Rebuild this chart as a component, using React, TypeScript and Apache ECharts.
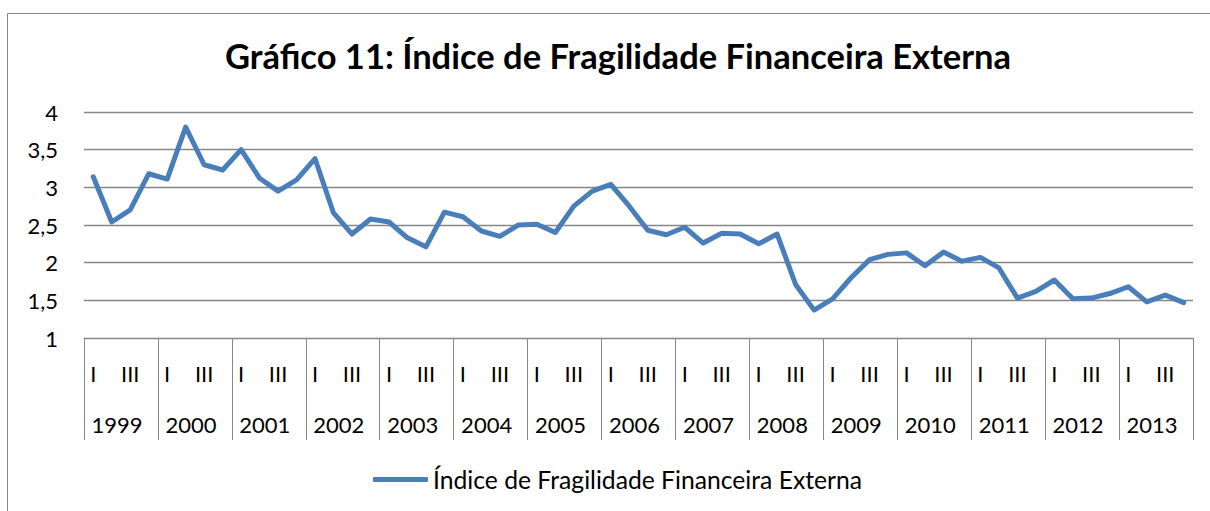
import React, { useEffect, useRef } from "react";
import * as echarts from "echarts";

const title = "Gráfico 11: Índice de Fragilidade Financeira Externa";
const seriesName = "Índice de Fragilidade Financeira Externa";
const years = ["1999","2000","2001","2002","2003","2004","2005","2006","2007","2008","2009","2010","2011","2012","2013"];
const quarterNames = ["I", "II", "III", "IV"];
const quarters: string[] = [];
years.forEach(() => quarterNames.forEach((q) => quarters.push(q)));

const values = [
  3.14, 2.54, 2.70, 3.18,
  3.11, 3.80, 3.30, 3.23,
  3.50, 3.12, 2.95, 3.10,
  3.38, 2.66, 2.38, 2.58,
  2.54, 2.33, 2.21, 2.67,
  2.61, 2.42, 2.35, 2.50,
  2.51, 2.40, 2.75, 2.95,
  3.04, 2.75, 2.43, 2.37,
  2.47, 2.26, 2.39, 2.38,
  2.25, 2.38, 1.71, 1.37,
  1.52, 1.80, 2.04, 2.11,
  2.13, 1.96, 2.14, 2.02,
  2.07, 1.93, 1.53, 1.62,
  1.77, 1.52, 1.53, 1.59,
  1.68, 1.48, 1.57, 1.47,
];

const FONT = "Lato";
const GRAY = "#868686";

export default function App() {
  const ref = useRef<HTMLDivElement>(null);
  useEffect(() => {
    if (!ref.current) return;
    const chart = echarts.init(ref.current, null, { renderer: "svg" });
    chart.setOption({
      animation: false,
      backgroundColor: "#ffffff",
      textStyle: { fontFamily: FONT, color: "#000" },
      title: {
        text: title,
        left: 220,
        top: 33,
        textStyle: { fontFamily: FONT, fontWeight: "bold", fontSize: 34.5, color: "#000" },
      },
      legend: {
        left: 368,
        top: 462,
        icon: "roundRect",
        itemWidth: 55,
        itemHeight: 5,
        itemGap: 5,
        textStyle: { fontFamily: FONT, fontSize: 24.7, color: "#000" },
        data: [seriesName],
      },
      graphic: [
        {
          type: "rect",
          shape: { x: 7.5, y: 13.5, width: 1400, height: 700 },
          style: { fill: "none", stroke: GRAY, lineWidth: 1 },
          silent: true,
        },
      ],
      grid: { left: 84, right: 17, top: 112, bottom: 173, containLabel: false },
      xAxis: [
        {
          type: "category",
          data: quarters,
          position: "bottom",
          boundaryGap: true,
          axisLine: { show: true, onZero: false, lineStyle: { color: GRAY, width: 1 } },
          axisTick: {
            show: true,
            interval: (i: number) => i % 4 === 0,
            length: 102,
            lineStyle: { color: GRAY, width: 1 },
          },
          axisLabel: { interval: 1, margin: 24, fontSize: 22, fontFamily: FONT, color: "#000" },
          splitLine: { show: false },
        },
        {
          type: "category",
          data: years,
          position: "bottom",
          boundaryGap: true,
          axisLine: { show: false, onZero: false },
          axisTick: { show: false },
          axisLabel: { interval: 0, margin: 75, fontSize: 22, fontFamily: FONT, color: "#000", padding: [0, 8, 0, 0] },
          splitLine: { show: false },
        },
      ],
      yAxis: {
        type: "value",
        min: 1,
        max: 4,
        interval: 0.5,
        axisLine: { show: false },
        axisTick: { show: false },
        axisLabel: {
          margin: 26,
          fontSize: 22,
          fontFamily: FONT,
          color: "#000",
          formatter: (v: number) => String(v).replace(".", ","),
        },
        splitLine: { show: true, lineStyle: { color: GRAY, width: 1.3 } },
      },
      series: [
        {
          name: seriesName,
          type: "line",
          xAxisIndex: 0,
          data: values,
          symbol: "none",
          smooth: false,
          color: "#4A7EBB",
          lineStyle: { width: 5, color: "#4A7EBB", cap: "round", join: "round" },
        },
      ],
    });
    return () => chart.dispose();
  }, []);
  return (
    <div
      ref={ref}
      style={{ position: "fixed", left: 0, top: 0, width: 1210, height: 511, background: "#fff" }}
    />
  );
}
